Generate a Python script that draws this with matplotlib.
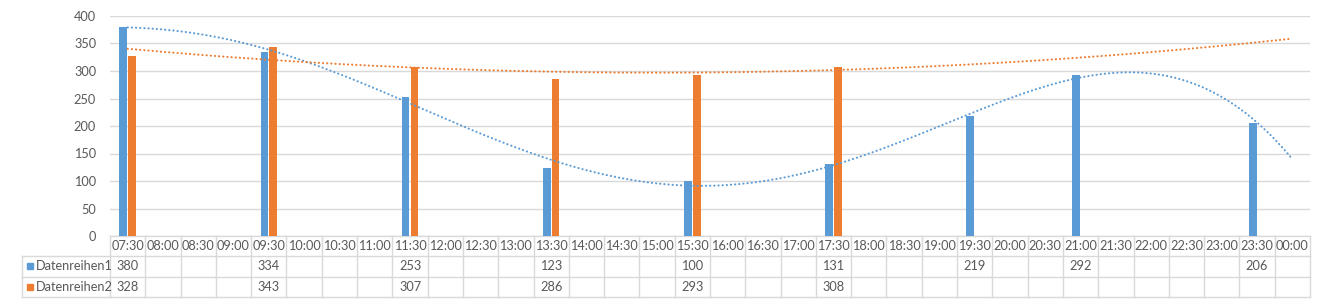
import numpy as np
import matplotlib.pyplot as plt

plt.rcParams['font.family'] = ['Lato', 'DejaVu Sans']

cats = ['07:30', '08:00', '08:30', '09:00', '09:30', '10:00', '10:30', '11:00',
        '11:30', '12:00', '12:30', '13:00', '13:30', '14:00', '14:30', '15:00',
        '15:30', '16:00', '16:30', '17:00', '17:30', '18:00', '18:30', '19:00',
        '19:30', '20:00', '20:30', '21:00', '21:30', '22:00', '22:30', '23:00',
        '23:30', '00:00']
series1 = [380, None, None, None, 334, None, None, None, 253, None, None, None,
           123, None, None, None, 100, None, None, None, 131, None, None, None,
           219, None, None, 292, None, None, None, None, 206, None]
series2 = [328, None, None, None, 343, None, None, None, 307, None, None, None,
           286, None, None, None, 293, None, None, None, 308, None, None, None,
           None, None, None, None, None, None, None, None, None, None]
names = ['Datenreihen1', 'Datenreihen2']
colors = ['#5B9BD5', '#ED7D31']
trend_deg = [6, 2]  # polynomial trendlines

txt = '#595959'
grid = '#D9D9D9'
fs = 9.2

fig = plt.figure(figsize=(13.24, 3.0), dpi=100)
W, H = 1324, 300
left, right, top, bottom = 110, 1310, 16, 236
ax = fig.add_axes([left / W, 1 - bottom / H, (right - left) / W, (bottom - top) / H])

n = len(cats)
ax.set_xlim(-0.5, n - 0.5)
ax.set_ylim(0, 400)

# bars + trendlines
xs = np.linspace(0, n - 1, 400)
for k, (ser, col, deg) in enumerate(zip([series1, series2], colors, trend_deg)):
    idx = np.array([i for i, v in enumerate(ser) if v is not None])
    vals = np.array([ser[i] for i in idx], dtype=float)
    off = -0.125 if k == 0 else 0.125
    ax.bar(idx + off, vals, width=0.22, color=col, zorder=3)
    p = np.polyfit(idx, vals, deg)
    ax.plot(xs, np.polyval(p, xs), color=col, lw=1.5,
            linestyle=(0, (0.1, 1.9)), dash_capstyle='round', zorder=4)

ax.set_yticks(range(0, 401, 50))
ax.yaxis.grid(True, color=grid, lw=1)
ax.set_axisbelow(True)
ax.tick_params(axis='y', length=0, pad=10, labelsize=fs, labelcolor=txt)
ax.set_xticks([])
for s in ax.spines.values():
    s.set_visible(False)

# data table under the plot
tr = ax.get_xaxis_transform()
row_h = 20.3 / (bottom - top)
rows_y = [0, -row_h, -2 * row_h, -3 * row_h]
cat_w = (right - left) / n
leg_x = -0.5 - (left - 22) / cat_w

kw = dict(transform=tr, clip_on=False, color=grid, lw=1)
ax.plot([-0.5, n - 0.5], [0, 0], **kw)
for yy in rows_y[1:]:
    ax.plot([leg_x, n - 0.5], [yy, yy], **kw)
for i in range(n + 1):
    ax.plot([i - 0.5, i - 0.5], [0, rows_y[-1]], **kw)
ax.plot([leg_x, leg_x], [rows_y[1], rows_y[-1]], **kw)

for i, c in enumerate(cats):
    ax.text(i, -row_h / 2, c, transform=tr, ha='center', va='center',
            fontsize=fs, color=txt)
for r, (ser, nm, col) in enumerate(zip([series1, series2], names, colors)):
    yc = rows_y[r + 1] - row_h / 2
    for i, v in enumerate(ser):
        if v is not None:
            ax.text(i, yc, str(v), transform=tr, ha='center', va='center',
                    fontsize=fs, color=txt)
    ax.plot([leg_x + 8 / cat_w], [yc], marker='s', ms=5, color=col,
            transform=tr, clip_on=False)
    ax.text(leg_x + 14 / cat_w, yc, nm, transform=tr, ha='left', va='center',
            fontsize=fs, color=txt)

fig.savefig('out.png', dpi=100)
